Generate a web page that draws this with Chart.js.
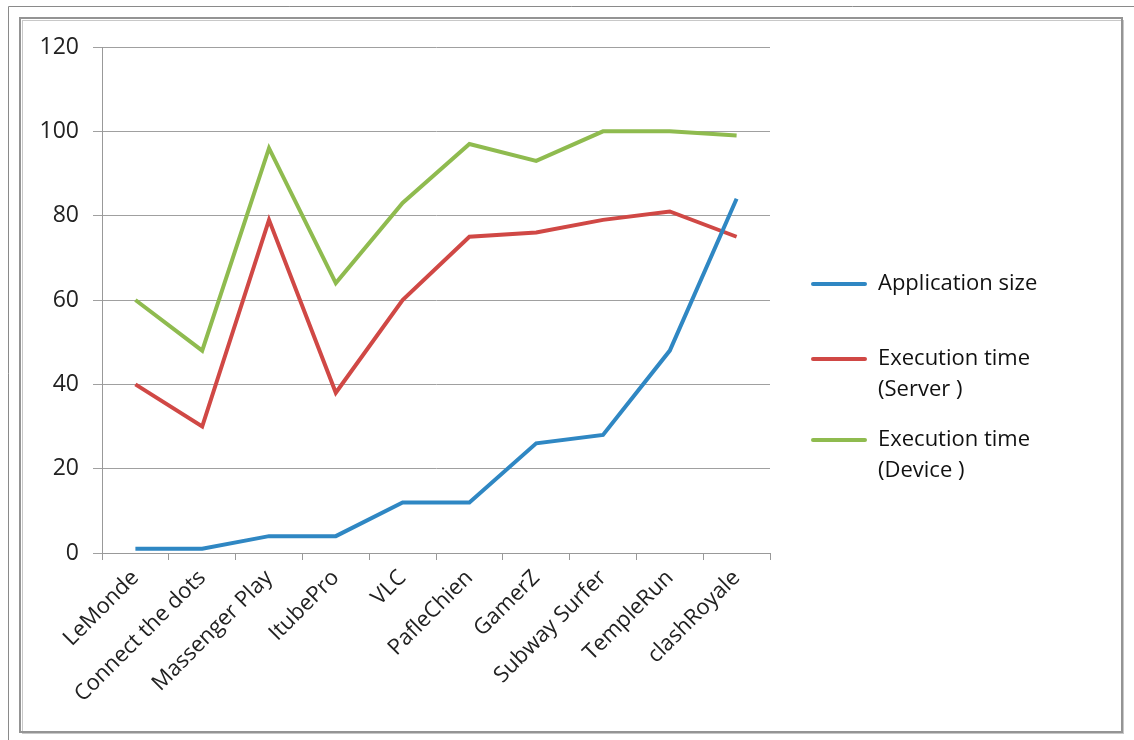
<!DOCTYPE html>
<html>
<head>
<meta charset="utf-8">
<script src="https://cdn.jsdelivr.net/npm/chart.js@4"></script>
<style>
  html, body { margin: 0; padding: 0; background: #fff; }
  #wrap { width: 1134px; height: 740px; position: relative; }
</style>
</head>
<body>
<div id="wrap"><canvas id="myChart" width="1134" height="740"></canvas></div>
<script>
const apps = ["LeMonde", "Connect the dots", "Massenger Play", "ItubePro", "VLC",
              "PafleChien", "GamerZ", "Subway Surfer", "TempleRun", "clashRoyale"];
const appSize     = [1, 1, 4, 4, 12, 12, 26, 28, 48, 84];
const execServer  = [40, 30, 79, 38, 60, 75, 76, 79, 81, 75];
const execDevice  = [60, 48, 96, 64, 83, 97, 93, 100, 100, 99];
const yTicks      = [0, 20, 40, 60, 80, 100, 120];

const FONT = "'Open Sans', sans-serif";

// frame lines around the figure
const framePlugin = {
    id: 'frame',
    beforeDraw(chart) {
        const c = chart.ctx;
        c.save();
        c.strokeStyle = '#8a8a8a';
        c.lineWidth = 1;
        c.beginPath();
        c.moveTo(8.5, 740); c.lineTo(8.5, 6.5); c.lineTo(1134, 6.5);
        c.stroke();
        c.strokeStyle = '#c8c8c8';
        c.lineWidth = 1;
        c.strokeRect(22.5, 20.5, 1101, 713);
        c.strokeStyle = '#949494';
        c.lineWidth = 2;
        c.strokeRect(20, 18, 1102, 714);
        c.restore();
    }
};

// legend on the right with wrapped labels
const sideLegend = {
    id: 'sideLegend',
    afterDraw(chart) {
        const c = chart.ctx;
        const rows = [284, 359, 440];
        c.save();
        c.font = '22px ' + FONT;
        c.fillStyle = '#111';
        c.textBaseline = 'middle';
        chart.data.datasets.forEach((ds, i) => {
            const y = rows[i];
            c.strokeStyle = ds.borderColor;
            c.lineWidth = 4;
            c.lineCap = 'round';
            c.beginPath();
            c.moveTo(813, y); c.lineTo(865, y);
            c.stroke();
            ds.legendLines.forEach((t, k) => c.fillText(t, 878, y + k * 31));
        });
        c.restore();
    }
};

const ctx = document.getElementById('myChart');
let myChart = new Chart(ctx, {
    type: 'line',
    data: {
        labels: apps,
        datasets: [
            {
                label: "Application size",
                legendLines: ["Application size"],
                data: appSize,
                borderColor: "#2f87c3",
                borderWidth: 4,
                pointRadius: 0,
                tension: 0
            },
            {
                label: "Execution time (Server )",
                legendLines: ["Execution time", "(Server )"],
                data: execServer,
                borderColor: "#d04845",
                borderWidth: 4,
                pointRadius: 0,
                tension: 0
            },
            {
                label: "Execution time (Device )",
                legendLines: ["Execution time", "(Device )"],
                data: execDevice,
                borderColor: "#8fbb4f",
                borderWidth: 4,
                pointRadius: 0,
                tension: 0
            }
        ]
    },
    options: {
        responsive: false,
        animation: false,
        layout: { padding: { left: 0, top: 47, right: 364, bottom: 0 } },
        plugins: {
            legend: { display: false },
            tooltip: { enabled: false }
        },
        scales: {
            x: {
                offset: true,
                grid: {
                    offset: true,
                    drawOnChartArea: false,
                    color: '#999',
                    tickLength: 7
                },
                border: { color: '#999', width: 1 },
                ticks: {
                    color: '#222',
                    font: { family: FONT, size: 22 },
                    maxRotation: 45,
                    minRotation: 45,
                    autoSkip: false,
                    padding: 5
                },
                afterFit(scale) { scale.height = 740 - 553; }
            },
            y: {
                min: 0,
                max: 120,
                afterBuildTicks(scale) { scale.ticks = yTicks.map(v => ({ value: v })); },
                grid: { color: '#a0a0a0', tickLength: 9 },
                border: { color: '#999', width: 1 },
                ticks: {
                    color: '#222',
                    font: { family: FONT, size: 23 },
                    padding: 14
                },
                afterFit(scale) { scale.width = 102; }
            }
        }
    },
    plugins: [framePlugin, sideLegend]
});
</script>
</body>
</html>
